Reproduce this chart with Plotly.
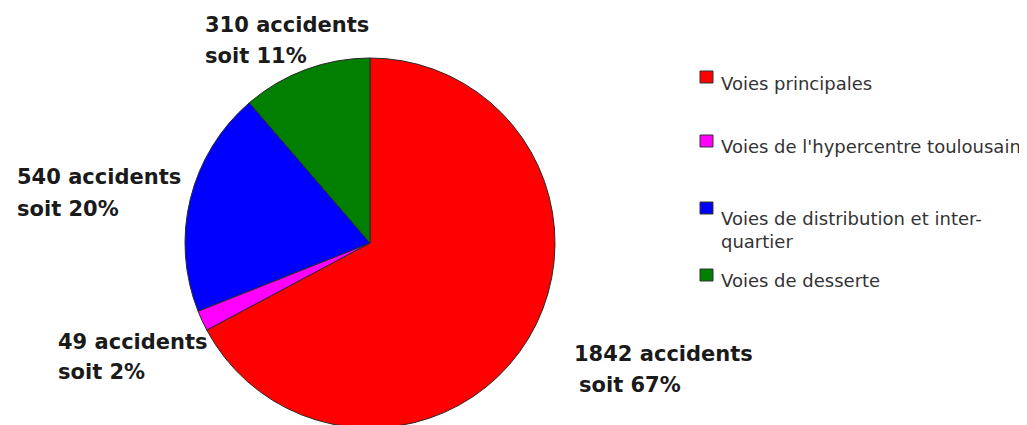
import plotly.graph_objects as go

# ---- data ----
categories = [
    "Voies principales",
    "Voies de l'hypercentre toulousain",
    "Voies de distribution et inter-<br>quartier",
    "Voies de desserte",
]
accidents = [1842, 49, 540, 310]
percent_labels = [67, 2, 20, 11]
colors = ["#FF0000", "#FF00FF", "#0000FF", "#007F00"]

W, H = 1027, 425
OFF = 8  # page body margin in the browser

def px(x, pad=0):
    return (x - OFF - pad) / W

def py(y):
    return 1 - (y - OFF) / H

# pie: centre (370, 243) on screen, radius 185
cx, cy, r = 370 - OFF, 243 - OFF, 185
fig = go.Figure()
fig.add_trace(go.Pie(
    labels=categories,
    values=accidents,
    sort=False,
    direction="clockwise",
    rotation=0,
    marker=dict(colors=colors, line=dict(color="#2a2a2a", width=1)),
    textinfo="none",
    hoverinfo="label+value+percent",
    showlegend=False,
    domain=dict(x=[(cx - r) / W, (cx + r) / W],
                y=[(H - cy - r) / H, (H - cy + r) / H]),
))

label_font = dict(family="DejaVu Sans", size=21, color="#1a1a1a", weight="bold")

# slice labels: (index, x line1, y line1, x line2, y line2)
label_pos = [
    (0, 574, 354, 579, 385),
    (1, 58, 342, 58, 372),
    (2, 17, 177, 17, 209),
    (3, 205, 25, 205, 56),
]
for i, x1, y1, x2, y2 in label_pos:
    fig.add_annotation(x=px(x1, 2), y=py(y1), xref="paper", yref="paper",
                       xanchor="left", yanchor="middle", showarrow=False,
                       text=f"{accidents[i]} accidents", font=label_font)
    fig.add_annotation(x=px(x2, 2), y=py(y2), xref="paper", yref="paper",
                       xanchor="left", yanchor="middle", showarrow=False,
                       text=f"soit {percent_labels[i]}%", font=label_font)

# manual legend
legend_font = dict(family="DejaVu Sans", size=18, color="#333333")
legend_rows = [(77, 83), (141, 146), (208, 218), (275, 280)]
for i, (sy, ty) in enumerate(legend_rows):
    fig.add_shape(type="rect", xref="paper", yref="paper",
                  x0=px(700), x1=px(713), y0=py(sy - 6), y1=py(sy + 6),
                  fillcolor=colors[i], line=dict(color="#333333", width=1))
    lines = categories[i].split("<br>")
    for k, line in enumerate(lines):
        fig.add_annotation(x=px(721, 2), y=py(ty + 24 * k), xref="paper", yref="paper",
                           xanchor="left", yanchor="middle", showarrow=False,
                           text=line, font=legend_font)

fig.update_layout(
    width=W, height=H,
    margin=dict(l=0, r=0, t=0, b=0),
    paper_bgcolor="white",
    plot_bgcolor="white",
)

fig.write_html("out.html")
